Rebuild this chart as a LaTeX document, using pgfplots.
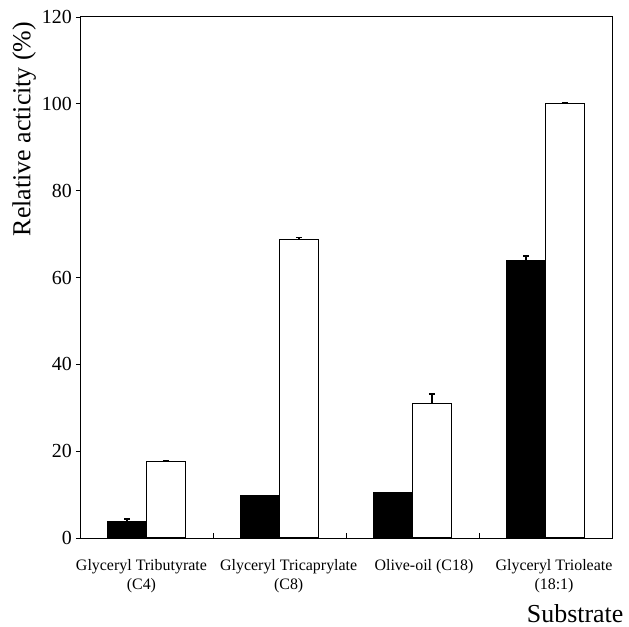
\documentclass[border=0pt]{standalone}
\usepackage{pgfplots}
\pgfplotsset{compat=1.18}
\usepackage{fontspec}
\setmainfont{Liberation Serif}
\begin{document}
\begin{tikzpicture}
\useasboundingbox (-80bp,-89bp) rectangle (549bp,538bp);
\begin{axis}[
  at={(0,0)}, anchor=south west,
  scale only axis, width=532bp, height=521bp,
  xmin=-0.5, xmax=3.5, ymin=0, ymax=120,
  ytick={0,20,40,60,80,100,120},
  /pgf/number format/assume math mode=true,
  ybar=0pt, bar width=0.293,
  axis line style={line width=1pt},
  xtick={-0.038,1.069,2.086,3.064},
  xticklabels={{Glyceryl Tributyrate\\(C4)},{Glyceryl Tricaprylate\\(C8)},{Olive-oil (C18)},{Glyceryl Trioleate\\(18:1)}},
  minor xtick={0.5,1.5,2.5},
  xtick pos=bottom, ytick pos=left,
  xtick align=inside, ytick align=outside,
  major x tick style={draw=none},
  major tick length=4bp, minor tick length=5bp,
  tick style={line width=0.8pt, black},
  xticklabel style={align=center, font=\fontsize{16}{19}\selectfont, inner sep=0pt, yshift=-21bp},
  yticklabel style={font=\fontsize{20}{24}\selectfont, inner sep=0pt, xshift=-4bp},
  ylabel={Relative acticity (\%)},
  ylabel style={at={(axis description cs:-0.105,0.785)}, anchor=center, font=\fontsize{26}{30}\selectfont},
  xlabel={Substrate},
  xlabel style={at={(axis description cs:1.028,-0.163)}, anchor=base east, font=\fontsize{26}{30}\selectfont},
  error bars/y dir=plus, error bars/y explicit,
  error bars/error bar style={line width=1.3pt, black},
  error bars/error mark options={line width=1.8pt, mark size=3bp, rotate=90, black},
]
\addplot[fill=black, draw=black, line width=1pt] coordinates {
  (0,3.75) +- (0,0.65)
  (1,9.75) +- (0,0)
  (2,10.4) +- (0,0)
  (3,63.9) +- (0,1.0)
};
\addplot[fill=white, draw=black, line width=1.2pt] coordinates {
  (0,17.6) +- (0,0.25)
  (1,68.7) +- (0,0.5)
  (2,30.9) +- (0,2.3)
  (3,100.0) +- (0,0.3)
};
\end{axis}
\end{tikzpicture}
\end{document}
